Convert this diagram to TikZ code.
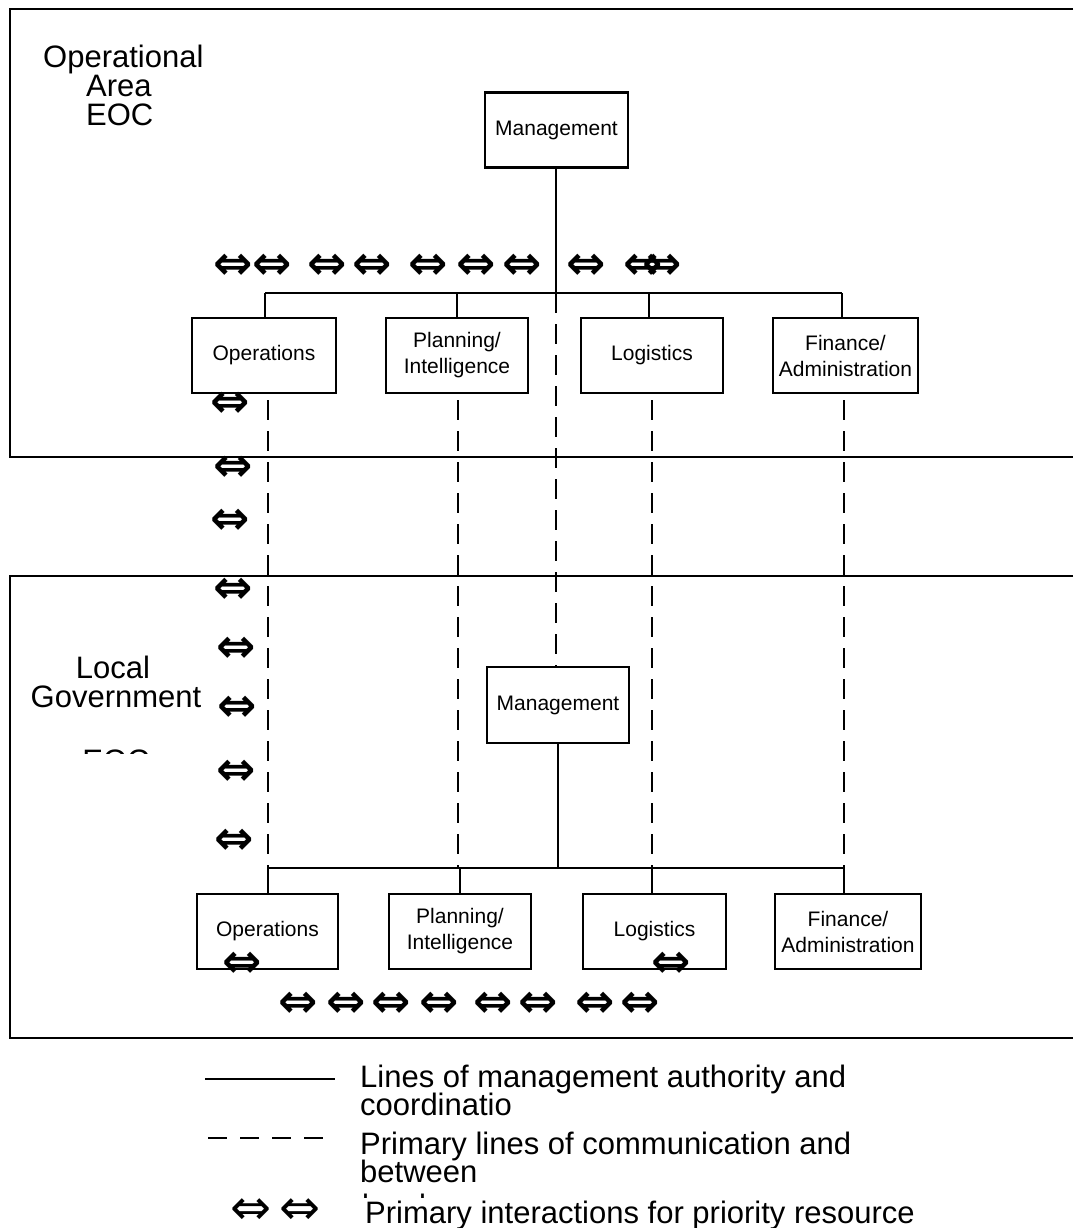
\documentclass[tikz,border=0pt]{standalone}
\usepackage{fontspec}
\setmainfont{Liberation Sans}
\newfontfamily\arrowfont{DejaVu Sans}
\newfontfamily\arrowboldfont{DejaVu Sans Bold}
\begin{document}
\begin{tikzpicture}[x=1pt,y=-1pt,
  lw/.style={line width=2.3pt},
  frame/.style={lw, draw=black},
  box/.style={draw, lw, minimum width=143pt, minimum height=75pt, align=center, inner sep=0pt,
    font=\fontsize{21}{26}\selectfont},
  conn/.style={lw},
  comm/.style={lw, dash pattern=on 20pt off 11pt},
  big/.style={font=\fontsize{31}{29}\selectfont, inner sep=0pt},
  leg/.style={font=\fontsize{31}{28}\selectfont, inner sep=0pt, anchor=base west},
  arr/.style={font=\arrowboldfont\fontsize{47}{47}\selectfont, inner sep=0pt, yshift=-1.5pt},
  legarr/.style={font=\arrowfont\fontsize{49}{49}\selectfont, inner sep=0pt, yshift=-1.5pt}]
\useasboundingbox (0,0) rectangle (1073,1228);
\fill[white] (0,0) rectangle (1073,1228);

% outer frames
\coordinate (fa1) at (1073,9);  \coordinate (fa2) at (10,9);
\coordinate (fa3) at (10,457);  \coordinate (fa4) at (1073,457);
\draw[frame] (fa1) -- (fa2) -- (fa3) -- (fa4);
\coordinate (fb1) at (1073,576);  \coordinate (fb2) at (10,576);
\coordinate (fb3) at (10,1038);   \coordinate (fb4) at (1073,1038);
\draw[frame] (fb1) -- (fb2) -- (fb3) -- (fb4);

% labels of the two EOCs
\node[big, anchor=base west] (la1) at (43,68) {Operational};
\node[big, anchor=base west] (la2) at (86,97) {Area};
\node[big, anchor=base west] (la3) at (86,126) {EOC};
\node[big, anchor=base] (lb1) at (113,678) {Local};
\node[big, anchor=base] (lb2) at (116,707) {Government};
\begin{scope}
  \clip (60,749) rectangle (180,753.5);
  \node[big, anchor=base] (lb3) at (116,771) {EOC};
\end{scope}

% upper EOC
\node[box] (mgU) at (556.5,130) {Management};
\node[box, minimum width=144pt] (opU) at (264,355.5) {Operations};
\node[box, minimum width=142pt] (plU) at (457,355.5) {Planning/\\Intelligence};
\node[box, minimum width=142pt] (loU) at (652,355.5) {Logistics};
\node[box, minimum width=145pt] (fiU) at (845.5,355.5) {Finance/\\Administration};

\coordinate (bU) at (556,293);
\coordinate (bUl) at (265,293);
\coordinate (bUr) at (842,293);
\draw[conn] (mgU.south -| bU) -- (bU);
\draw[conn] (bUl) -- (bUr);
\draw[conn] (bUl) -- (bUl |- opU.north);
\draw[conn] (457,293) -- (plU.north -| 457,0);
\draw[conn] (649,293) -- (loU.north -| 649,0);
\draw[conn] (bUr) -- (bUr |- fiU.north);

% lower EOC
\node[box, minimum width=142pt, minimum height=76pt] (mgL) at (558,705) {Management};
\node[box, minimum width=141pt] (opL) at (267.5,931.5) {Operations};
\node[box, minimum width=142pt] (plL) at (460,931.5) {Planning/\\Intelligence};
\node[box, minimum width=143pt] (loL) at (654.5,931.5) {Logistics};
\node[box, minimum width=146pt] (fiL) at (848,931.5) {Finance/\\Administration};

\coordinate (bL) at (558,868);
\coordinate (bLl) at (268,868);
\coordinate (bLr) at (844,868);
\draw[conn] (mgL.south -| bL) -- (bL);
\draw[conn] (bLl) -- (bLr);
\draw[conn] (bLl) -- (bLl |- opL.north);
\draw[conn] (460,868) -- (plL.north -| 460,0);
\draw[conn] (652,868) -- (loL.north -| 652,0);
\draw[conn] (bLr) -- (bLr |- fiL.north);

% communication lines
\draw[comm] (268,400) -- (bLl);
\draw[comm] (458,400) -- (458,868);
\draw[comm] (652,400) -- (652,868);
\draw[comm] (844,400) -- (bLr);
\draw[comm] (bU) -- (mgL.north -| bU);

% resource interaction arrows
\foreach \x [count=\i] in {233,272,327,372,428,476,522,586,643,662}
  \node[arr] (at\i) at (\x,265) {⇔};
\foreach \x/\y [count=\i] in {230/403,233/467,230/520,233/589,236/648,237/707,236/771,234/840}
  \node[arr] (al\i) at (\x,\y) {⇔};
\foreach \x [count=\i] in {298,346,391,439,493,538,595,640}
  \node[arr] (ab\i) at (\x,1003) {⇔};
\node[arr] (ao) at (242,963) {⇔};
\node[arr] (alo) at (671,963) {⇔};

% legend
\coordinate (ls1) at (205,1079); \coordinate (ls2) at (335,1079);
\draw[lw] (ls1) -- (ls2);
\coordinate (ld1) at (208,1138); \coordinate (ld2) at (323,1138);
\draw[lw, dash pattern=on 19pt off 13pt] (ld1) -- (ld2);
\node[legarr] (lg1) at (251,1210) {⇔};
\node[legarr] (lg2) at (300,1210) {⇔};

\node[leg] (t1) at (360,1087) {Lines of management authority and};
\node[leg] (t2) at (360,1115) {coordinatio};
\node[leg] (t3) at (360,1154) {Primary lines of communication and};
\node[leg] (t4) at (360,1182) {between};
\begin{scope}
  \clip (355,1193) rectangle (500,1197);
  \node[leg] (t5) at (362,1216) {levels};
\end{scope}
\node[leg] (t6) at (365,1223) {Primary interactions for priority resource};
\end{tikzpicture}
\end{document}
